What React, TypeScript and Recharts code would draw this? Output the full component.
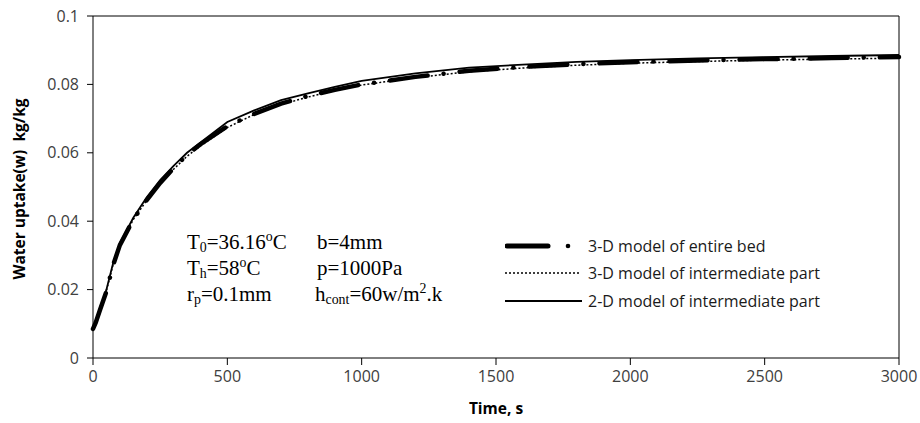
import React from 'react';
import { LineChart, Line, XAxis, YAxis, ReferenceLine } from 'recharts';

// time points (s) shared by all three curves
const times = [0, 10, 25, 50, 75, 100, 150, 200, 250, 300, 350, 400, 500, 600, 700, 800, 900, 1000, 1200, 1400, 1600, 1800, 2000, 2250, 2500, 2750, 3000];

// water uptake, kg/kg
const entireBed3D = [0.0085, 0.0103, 0.0138, 0.0195, 0.0272, 0.033, 0.0405, 0.0462, 0.0512, 0.0555, 0.0594, 0.0625, 0.0678, 0.0714, 0.0744, 0.0766, 0.0784, 0.08, 0.0822, 0.084, 0.0851, 0.0859, 0.0865, 0.087, 0.0874, 0.0877, 0.088];
const intermediate3D = [0.0088, 0.0106, 0.014, 0.0197, 0.0274, 0.0331, 0.0405, 0.0461, 0.051, 0.0552, 0.059, 0.062, 0.0674, 0.0712, 0.0741, 0.0763, 0.0782, 0.0798, 0.082, 0.0837, 0.0848, 0.0856, 0.0862, 0.0867, 0.0871, 0.0874, 0.0877];
const intermediate2D = [0.009, 0.0108, 0.0143, 0.02, 0.0278, 0.0336, 0.041, 0.047, 0.052, 0.0562, 0.06, 0.063, 0.069, 0.0724, 0.0754, 0.0774, 0.0793, 0.081, 0.0832, 0.0849, 0.0858, 0.0866, 0.0871, 0.0876, 0.088, 0.0883, 0.0886];

const xTicks = [0, 500, 1000, 1500, 2000, 2500, 3000];
const yTicks = [0, 0.02, 0.04, 0.06, 0.08, 0.1];

const seriesNames = ['3-D model of entire bed', '3-D model of intermediate part', '2-D model of intermediate part'];

const data = times.map((t, i) => ({
  t,
  entire: entireBed3D[i],
  inter3: intermediate3D[i],
  inter2: intermediate2D[i],
}));

const sans = '"Open Sans", sans-serif';
const serif = '"Liberation Serif", "Times New Roman", serif';

const sub: React.CSSProperties = { fontSize: '0.66em', verticalAlign: '-0.2em', lineHeight: 0 };
const sup: React.CSSProperties = { fontSize: '0.66em', verticalAlign: '0.55em', lineHeight: 0 };

const YLabel = (props: any) => {
  const { viewBox } = props;
  const cx = 19;
  const cy = viewBox.y + viewBox.height / 2 + 2;
  return (
    <text x={cx} y={cy} transform={`rotate(-90 ${cx} ${cy})`} textAnchor="middle" dominantBaseline="central"
      style={{ fontFamily: sans, fontSize: 15.5, fontWeight: 700, fill: '#000', whiteSpace: 'pre' }}>
      {'Water uptake(w)  kg/kg'}
    </text>
  );
};

// legend drawn as an overlay so it does not shrink the plot area
const LegendBox = () => (
  <div style={{ position: 'absolute', left: 505, top: 232, fontFamily: sans, fontSize: 16, color: '#1a1a1a', whiteSpace: 'nowrap' }}>
    {seriesNames.map((name, i) => (
      <div key={name} style={{ display: 'flex', alignItems: 'center', height: 27.5 }}>
        <svg width={83} height={12}>
          {i === 0 && (
            <>
              <line x1={2} y1={6} x2={43} y2={6} stroke="#000" strokeWidth={5} strokeLinecap="round" />
              <circle cx={63} cy={6} r={2.3} fill="#000" />
            </>
          )}
          {i === 1 && <line x1={0} y1={6} x2={76} y2={6} stroke="#000" strokeWidth={1.5} strokeDasharray="2 2" />}
          {i === 2 && <line x1={0} y1={6} x2={77} y2={6} stroke="#000" strokeWidth={2} />}
        </svg>
        <span>{name}</span>
      </div>
    ))}
  </div>
);

export default function App() {
  return (
    <div style={{ position: 'absolute', left: 0, top: 0, width: 920, height: 423, background: '#fff' }}>
      <LineChart width={920} height={423} data={data} margin={{ top: 16, right: 21, bottom: 0, left: 0 }}>
        <XAxis
          dataKey="t"
          type="number"
          domain={[0, 3000]}
          ticks={xTicks}
          tickSize={7}
          height={65}
          stroke="#000"
          tick={{ fill: '#404040', fontSize: 16, fontFamily: sans, dy: 4 }}
          tickLine={{ stroke: '#000' }}
          label={{ value: 'Time, s', position: 'insideBottom', offset: 9, style: { fontFamily: sans, fontSize: 15.5, fontWeight: 700, fill: '#000' } }}
        />
        <YAxis
          type="number"
          domain={[0, 0.1]}
          ticks={yTicks}
          tickSize={6}
          width={93}
          stroke="#000"
          tick={{ fill: '#404040', fontSize: 16, fontFamily: sans, dx: -6 }}
          tickLine={{ stroke: '#000' }}
          tickFormatter={(v: number) => String(v)}
          label={<YLabel />}
        />
        <ReferenceLine y={0.1} stroke="#000" strokeWidth={1} />
        <ReferenceLine x={3000} stroke="#000" strokeWidth={1} />
        <Line type="linear" dataKey="inter3" name={seriesNames[1]} stroke="#000" strokeWidth={1.5} strokeDasharray="2 2" dot={false} isAnimationActive={false} />
        <Line type="linear" dataKey="entire" name={seriesNames[0]} stroke="#000" strokeWidth={4.5} strokeDasharray="38 16 0.1 16" strokeLinecap="round" dot={false} isAnimationActive={false} />
        <Line type="linear" dataKey="inter2" name={seriesNames[2]} stroke="#000" strokeWidth={1.8} dot={false} isAnimationActive={false} />
      </LineChart>
      <LegendBox />
      <div style={{ position: 'absolute', left: 187, top: 229, fontFamily: serif, fontSize: 21, lineHeight: '26px', color: '#000', whiteSpace: 'nowrap' }}>
        <div style={{ display: 'flex' }}>
          <span style={{ width: 130 }}>T<span style={sub}>0</span>=36.16<span style={sup}>o</span>C</span>
          <span>b=4mm</span>
        </div>
        <div style={{ display: 'flex' }}>
          <span style={{ width: 130 }}>T<span style={sub}>h</span>=58<span style={sup}>o</span>C</span>
          <span>p=1000Pa</span>
        </div>
        <div style={{ display: 'flex' }}>
          <span style={{ width: 128 }}>r<span style={sub}>p</span>=0.1mm</span>
          <span>h<span style={sub}>cont</span>=60w/m<span style={sup}>2</span>.k</span>
        </div>
      </div>
    </div>
  );
}
